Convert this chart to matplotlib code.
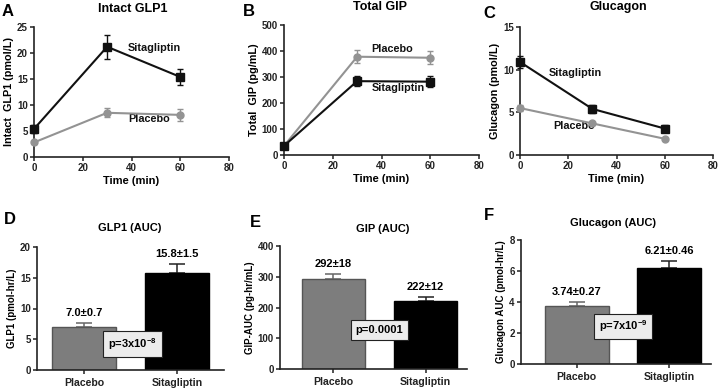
import matplotlib
matplotlib.use("Agg")
import matplotlib.pyplot as plt

plt.rcParams['font.family'] = ['Liberation Sans', 'DejaVu Sans']
plt.rcParams['font.weight'] = 'bold'
plt.rcParams['mathtext.fontset'] = 'custom'
plt.rcParams['mathtext.rm'] = 'Liberation Sans:bold'
plt.rcParams['mathtext.it'] = 'Liberation Sans:bold'
plt.rcParams['mathtext.bf'] = 'Liberation Sans:bold'

# ---------------- data ----------------
time = [0, 30, 60]
glp1_sita = [5.4, 21.2, 15.4]
glp1_sita_err = [0.8, 2.3, 1.5]
glp1_plac = [2.8, 8.5, 8.1]
glp1_plac_err = [0.3, 0.9, 1.1]

gip_sita = [35, 284, 282]
gip_sita_err = [6, 18, 22]
gip_plac = [35, 378, 374]
gip_plac_err = [6, 26, 25]

gcg_sita = [10.9, 5.4, 3.1]
gcg_sita_err = [0.7, 0.5, 0.4]
gcg_plac = [5.5, 3.7, 1.9]
gcg_plac_err = [0.4, 0.15, 0.1]

groups = ['Placebo', 'Sitagliptin']
glp1_auc = [7.0, 15.8]
glp1_auc_err = [0.7, 1.5]
glp1_auc_lbl = ['7.0±0.7', '15.8±1.5']
gip_auc = [292, 222]
gip_auc_err = [18, 12]
gip_auc_lbl = ['292±18', '222±12']
gcg_auc = [3.74, 6.21]
gcg_auc_err = [0.27, 0.46]
gcg_auc_lbl = ['3.74±0.27', '6.21±0.46']

W, H = 721, 388
fig = plt.figure(figsize=(W / 100, H / 100), dpi=100)

BLACK = '#111111'
GRAY = '#939393'
BARGRAY = '#7d7d7d'


def ax_px(l, t, r, b):
    return fig.add_axes([l / W, (H - b) / H, (r - l) / W, (b - t) / H])


def style(ax, ls=7):
    for s in ['top', 'right']:
        ax.spines[s].set_visible(False)
    for s in ['left', 'bottom']:
        ax.spines[s].set_linewidth(1.2)
        ax.spines[s].set_color('#222222')
    ax.tick_params(direction='out', length=3, width=1.1, labelsize=ls, pad=1.5, colors='#222222')
    for lab in ax.get_xticklabels() + ax.get_yticklabels():
        lab.set_fontweight('bold')


def line_panel(ax, sita, sita_e, plac, plac_e, ylim, yticks, ylabel, texts):
    ax.errorbar(time, plac, yerr=plac_e, color=GRAY, marker='o', ms=5, lw=1.5,
                capsize=2.5, elinewidth=1, capthick=1, zorder=3, clip_on=False)
    ax.errorbar(time, sita, yerr=sita_e, color=BLACK, marker='s', ms=5.5, lw=1.5,
                capsize=2.5, elinewidth=1, capthick=1, zorder=4, clip_on=False)
    ax.set_xlim(0, 80)
    ax.set_ylim(*ylim)
    ax.set_xticks([0, 20, 40, 60, 80])
    ax.set_yticks(yticks)
    ax.set_xlabel('Time (min)', fontsize=8, fontweight='bold', labelpad=2)
    ax.set_ylabel(ylabel, fontsize=7.8, fontweight='bold', labelpad=2)
    for (x, y, s) in texts:
        ax.text(x, y, s, fontsize=7.8, fontweight='bold', va='center', ha='left', color='#111111')
    style(ax)


axA = ax_px(34, 27, 229, 157)
line_panel(axA, glp1_sita, glp1_sita_err, glp1_plac, glp1_plac_err, (0, 25), [0, 5, 10, 15, 20, 25],
           'Intact  GLP1 (pmol/L)', [(38.5, 21, 'Sitagliptin'), (38.5, 7.3, 'Placebo')])
axB = ax_px(284, 25, 479, 155)
line_panel(axB, gip_sita, gip_sita_err, gip_plac, gip_plac_err, (0, 500), [0, 100, 200, 300, 400, 500],
           'Total  GIP (pg/mL)', [(36, 408, 'Placebo'), (36, 258, 'Sitagliptin')])
axC = ax_px(520, 27, 713, 155)
line_panel(axC, gcg_sita, gcg_sita_err, gcg_plac, gcg_plac_err, (0, 15), [0, 5, 10, 15],
           'Glucagon (pmol/L)', [(12, 9.6, 'Sitagliptin'), (13.7, 3.4, 'Placebo')])


def bar_panel(ax, vals, errs, lbls, xlim, ylim, yticks, ylabel, ptext, pxy):
    x = [0, 1]
    ax.bar(x, vals, width=0.69, color=[BARGRAY, '#000000'], edgecolor=['#555555', '#000000'],
           linewidth=1, zorder=2)
    ax.errorbar(x[0], vals[0], yerr=[[0], [errs[0]]], color='#666666', capsize=6, elinewidth=1.1,
                capthick=1.1, ls='none', zorder=1)
    ax.errorbar(x[1], vals[1], yerr=[[0], [errs[1]]], color='#222222', capsize=6, elinewidth=1.1,
                capthick=1.1, ls='none', zorder=1)
    for i in range(2):
        ax.annotate(lbls[i], (x[i], vals[i] + errs[i]), xytext=(0, 7), textcoords='offset points',
                    ha='center', va='center', fontsize=8, fontweight='bold')
    ax.set_xlim(*xlim)
    ax.set_ylim(*ylim)
    ax.set_yticks(yticks)
    ax.set_xticks(x)
    ax.set_xticklabels(groups)
    ax.set_ylabel(ylabel, fontsize=7, fontweight='bold', labelpad=2)
    ax.text(pxy[0], pxy[1], ptext, ha='center', va='center', fontsize=8, fontweight='bold', zorder=5,
            bbox=dict(boxstyle='square,pad=0.45', fc='#ececec', ec='#222222', lw=0.8))
    style(ax)
    ax.tick_params(axis='x', labelsize=7.6, pad=3)


axD = ax_px(37, 247, 224, 370)
bar_panel(axD, glp1_auc, glp1_auc_err, glp1_auc_lbl, (-0.51, 1.51), (0, 20), [0, 5, 10, 15, 20],
          'GLP1 (pmol-hr/L)', 'p=3x10$^{-8}$', (0.52, 4.2))
axE = ax_px(280, 246, 467, 369)
bar_panel(axE, gip_auc, gip_auc_err, gip_auc_lbl, (-0.58, 1.45), (0, 400), [0, 100, 200, 300, 400],
          'GIP-AUC (pg-hr/mL)', 'p=0.0001', (0.5, 127))
axF = ax_px(521, 240, 711, 364)
bar_panel(axF, gcg_auc, gcg_auc_err, gcg_auc_lbl, (-0.6, 1.45), (0, 8), [0, 2, 4, 6, 8],
          'Glucagon AUC (pmol-hr/L)', 'p=7x10$^{-9}$', (0.5, 2.42))


def ftext(x, y, s, size, ha='center'):
    fig.text(x / W, 1 - y / H, s, fontsize=size, fontweight='bold', ha=ha, va='center')


ftext(133, 9, 'Intact GLP1', 9)
ftext(380, 7, 'Total GIP', 9)
ftext(618, 7, 'Glucagon', 9)
ftext(130, 228, 'GLP1 (AUC)', 8)
ftext(383, 229, 'GIP (AUC)', 8)
ftext(613, 223, 'Glucagon (AUC)', 8)
ftext(2, 12, 'A', 12, 'left')
ftext(243, 12, 'B', 12, 'left')
ftext(483, 14, 'C', 12, 'left')
ftext(4, 220, 'D', 12, 'left')
ftext(250, 223, 'E', 12, 'left')
ftext(484, 216, 'F', 12, 'left')

fig.savefig('out.png', dpi=100)
